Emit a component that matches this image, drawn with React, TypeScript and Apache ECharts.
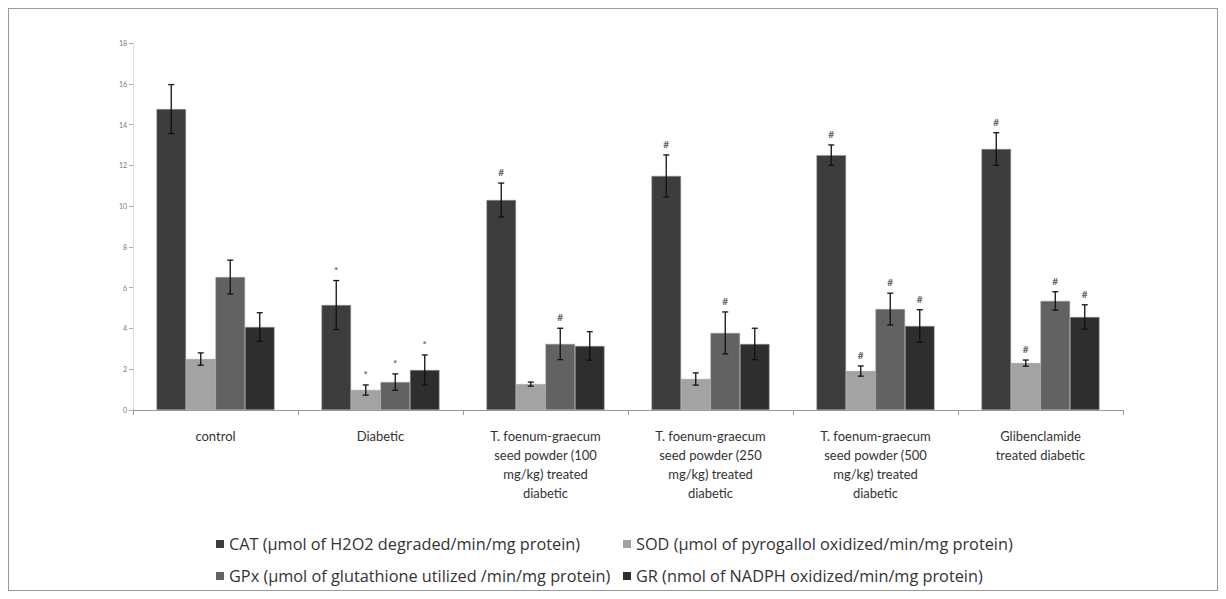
import React, { useEffect, useRef } from "react";
import * as echarts from "echarts";

const categories = [
  "control",
  "Diabetic",
  "T. foenum-graecum\nseed powder (100\nmg/kg) treated\ndiabetic",
  "T. foenum-graecum\nseed powder (250\nmg/kg) treated\ndiabetic",
  "T. foenum-graecum\nseed powder (500\nmg/kg) treated\ndiabetic",
  "Glibenclamide\ntreated diabetic",
];

const seriesNames = [
  "CAT (µmol of H2O2 degraded/min/mg protein)",
  "SOD (µmol of pyrogallol oxidized/min/mg protein)",
  "GPx (µmol of glutathione utilized /min/mg protein)",
  "GR (nmol of NADPH oxidized/min/mg protein)",
];

const catValues = [14.76, 5.15, 10.3, 11.48, 12.5, 12.8];
const catErrors = [1.2, 1.2, 0.83, 1.03, 0.5, 0.8];
const sodValues = [2.5, 0.98, 1.27, 1.52, 1.91, 2.3];
const sodErrors = [0.3, 0.25, 0.1, 0.3, 0.25, 0.15];
const gpxValues = [6.52, 1.37, 3.24, 3.78, 4.95, 5.35];
const gpxErrors = [0.83, 0.4, 0.77, 1.03, 0.78, 0.45];
const grValues = [4.07, 1.96, 3.14, 3.24, 4.12, 4.56];
const grErrors = [0.7, 0.74, 0.7, 0.77, 0.8, 0.6];

const catMarks = ["", "*", "#", "#", "#", "#"];
const sodMarks = ["", "*", "", "", "#", "#"];
const gpxMarks = ["", "*", "#", "#", "#", "#"];
const grMarks = ["", "*", "", "", "#", "#"];

const yTicks = [0, 2, 4, 6, 8, 10, 12, 14, 16, 18];

const colors = ["#3d3d3d", "#a3a3a3", "#626262", "#2e2e2e"];
const BAR_W = 29.5;
const FONT = "Lato, 'Open Sans', sans-serif";
const LEGEND_FONT = "'Open Sans', sans-serif";

function barSeries(name: string, values: number[], color: string) {
  return {
    type: "bar",
    name,
    data: values,
    barWidth: BAR_W,
    barGap: "0%",
    itemStyle: { color, borderColor: "#999", borderWidth: 0.5 },
  };
}

function errorSeries(values: number[], errors: number[], marks: string[], idx: number) {
  return {
    type: "custom",
    z: 10,
    data: values.map((v, i) => [i, v, errors[i]]),
    renderItem: (params: any, api: any) => {
      const x = api.value(0);
      const v = api.value(1);
      const e = api.value(2);
      const hi = api.coord([x, v + e]);
      const lo = api.coord([x, v - e]);
      const cx = hi[0] + (idx - 1.5) * BAR_W;
      const stroke = { stroke: "#111", lineWidth: 1.3 };
      const children: any[] = [
        { type: "line", shape: { x1: cx, y1: lo[1], x2: cx, y2: hi[1] }, style: stroke },
        { type: "line", shape: { x1: cx - 3, y1: hi[1], x2: cx + 3, y2: hi[1] }, style: stroke },
        { type: "line", shape: { x1: cx - 3, y1: lo[1], x2: cx + 3, y2: lo[1] }, style: stroke },
      ];
      const m = marks[params.dataIndex];
      if (m) {
        children.push({
          type: "text",
          style: {
            text: m,
            x: cx,
            y: hi[1] - 6,
            align: "center",
            verticalAlign: "bottom",
            fill: "#666",
            font: `bold 10px ${FONT}`,
          },
        });
      }
      return { type: "group", children };
    },
  };
}

export default function App() {
  const ref = useRef<HTMLDivElement>(null);
  useEffect(() => {
    if (!ref.current) return;
    const chart = echarts.init(ref.current, undefined, { renderer: "svg" });
    const legendText = { fontSize: 16.3, color: "#333", fontFamily: LEGEND_FONT };
    const legendBase = {
      icon: "rect",
      itemWidth: 8,
      itemHeight: 8,
      itemStyle: { borderWidth: 0 },
      textStyle: legendText,
    };
    const legendCols = [202, 609];
    const legendRows = [522, 554];
    chart.setOption({
      animation: false,
      textStyle: { fontFamily: FONT },
      grid: { left: 124, right: 94, top: 34, bottom: 180 },
      legend: [
        { ...legendBase, data: [seriesNames[0]], left: legendCols[0], top: legendRows[0] },
        { ...legendBase, data: [seriesNames[1]], left: legendCols[1], top: legendRows[0] },
        { ...legendBase, data: [seriesNames[2]], left: legendCols[0], top: legendRows[1] },
        { ...legendBase, data: [seriesNames[3]], left: legendCols[1], top: legendRows[1] },
      ],
      xAxis: {
        type: "category",
        data: categories,
        axisLine: { lineStyle: { color: "#999" } },
        axisTick: { show: true, length: 5, lineStyle: { color: "#999" } },
        axisLabel: {
          interval: 0,
          margin: 16,
          fontSize: 13,
          lineHeight: 19,
          color: "#333",
          fontFamily: FONT,
        },
      },
      yAxis: {
        type: "value",
        min: yTicks[0],
        max: yTicks[yTicks.length - 1],
        interval: 2,
        axisLine: { show: true, lineStyle: { color: "#ddd" } },
        axisTick: { show: true, length: 4, lineStyle: { color: "#aaa" } },
        splitLine: { show: false },
        axisLabel: { fontSize: 7, color: "#777", margin: 6 },
      },
      series: [
        barSeries(seriesNames[0], catValues, colors[0]),
        barSeries(seriesNames[1], sodValues, colors[1]),
        barSeries(seriesNames[2], gpxValues, colors[2]),
        barSeries(seriesNames[3], grValues, colors[3]),
        errorSeries(catValues, catErrors, catMarks, 0),
        errorSeries(sodValues, sodErrors, sodMarks, 1),
        errorSeries(gpxValues, gpxErrors, gpxMarks, 2),
        errorSeries(grValues, grErrors, grMarks, 3),
      ],
    });
    return () => chart.dispose();
  }, []);
  return (
    <div
      ref={ref}
      style={{
        width: 1210,
        height: 583,
        boxSizing: "border-box",
        border: "1px solid #9a9a9a",
      }}
    />
  );
}
